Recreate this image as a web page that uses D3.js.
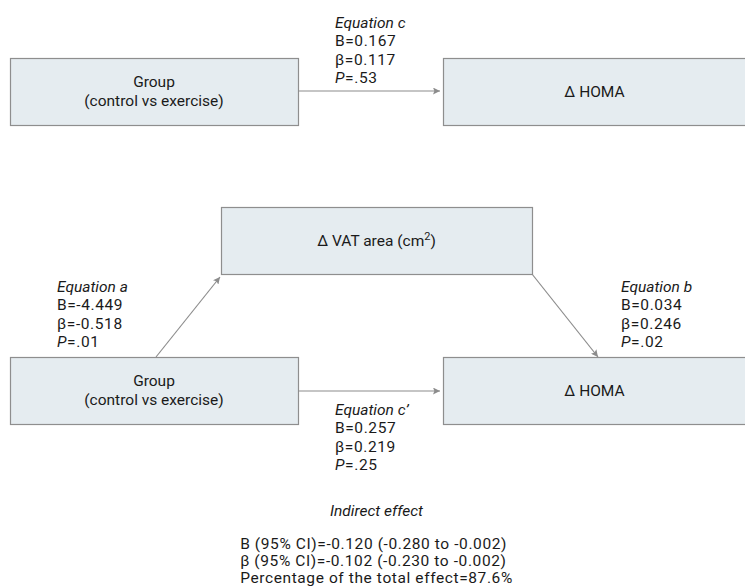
<!DOCTYPE html>
<html>
<head>
<meta charset="utf-8">
<script src="https://cdn.jsdelivr.net/npm/d3@7"></script>
<style>
  body { margin: 0; background: #fff; }
  text { font-family: Roboto, "Noto Sans", sans-serif; font-size: 15.5px; fill: #1a1a1a; }
  .lbl { font-size: 15.5px; }
  .stat { letter-spacing: 0.6px; }
  .box { fill: #e5ecf0; stroke: #8e8e8e; stroke-width: 1.2; }
  .arrow { stroke: #8c8c8c; stroke-width: 1.2; fill: none; }
</style>
</head>
<body>
<div id="chart"></div>
<script>
// model nodes
const groupLabel = ["Group", "(control vs exercise)"];
const homaLabel = ["Δ HOMA"];
const vatLabel = ["Δ VAT area (cm", "2", ")"];

// path coefficients: c (total), a, b, c' (direct)
const equationNames = ["Equation c", "Equation a", "Equation b", "Equation c’"];
const bValues = ["0.167", "-4.449", "0.034", "0.257"];
const betaValues = ["0.117", "-0.518", "0.246", "0.219"];
const pValues = [".53", ".01", ".02", ".25"];

// indirect effect
const indirectTitle = "Indirect effect";
const indirectB = ["-0.120", "-0.280", "-0.002"];
const indirectBeta = ["-0.102", "-0.230", "-0.002"];
const totalEffectPct = "87.6%";

let width = 745, height = 588;
let svg = d3.select("#chart").append("svg")
    .attr("width", width)
    .attr("height", height);

svg.append("defs").append("marker")
    .attr("id", "head")
    .attr("viewBox", "0 0 10 10")
    .attr("refX", 10).attr("refY", 5)
    .attr("markerWidth", 9).attr("markerHeight", 7)
    .attr("markerUnits", "userSpaceOnUse")
    .attr("orient", "auto")
    .append("path")
    .attr("d", "M0,0 L10,5 L0,10 L2,5 Z")
    .attr("fill", "#8c8c8c");

// layout
let leftX = 10, leftW = 288, rightX = 443, rightW = 303, boxH = 67;
let topY = 58, vatY = 207, lowY = 357;
let vatX = 221, vatW = 311;

let boxes = [
    {x: leftX, y: topY, w: leftW, label: groupLabel},
    {x: rightX, y: topY, w: rightW, label: homaLabel},
    {x: vatX, y: vatY, w: vatW, label: null},
    {x: leftX, y: lowY, w: leftW, label: groupLabel},
    {x: rightX, y: lowY, w: rightW, label: homaLabel}
];

svg.selectAll("rect.box")
    .data(boxes)
    .enter().append("rect")
    .attr("class", "box")
    .attr("x", d => d.x + 0.5)
    .attr("y", d => d.y + 0.5)
    .attr("width", d => d.w)
    .attr("height", boxH);

boxes.forEach(function(b){
    let cx = b.x + b.w / 2, cy = b.y + boxH / 2;
    if (b.label == null) {
	let t = svg.append("text").attr("class", "lbl")
	    .attr("x", cx).attr("y", cy + 5)
	    .attr("text-anchor", "middle");
	t.append("tspan").text(vatLabel[0]);
	t.append("tspan").attr("dy", -6).style("font-size", "11px").text(vatLabel[1]);
	t.append("tspan").attr("dy", 6).text(vatLabel[2]);
	return;
    }
    let n = b.label.length;
    b.label.forEach(function(s, i){
	svg.append("text").attr("class", "lbl")
	    .attr("x", cx)
	    .attr("y", cy + 5 + (i - (n - 1) / 2) * 18.5)
	    .attr("text-anchor", "middle")
	    .text(s);
    });
});

// arrows
let arrows = [
    [[leftX + leftW, topY + 33], [rightX - 3, topY + 33]],
    [[156, lowY], [vatX - 1, vatY + boxH + 3]],
    [[vatX + vatW, vatY + boxH], [598, lowY]],
    [[leftX + leftW, lowY + 34], [rightX - 3, lowY + 34]]
];
svg.selectAll("line.arrow")
    .data(arrows)
    .enter().append("line")
    .attr("class", "arrow")
    .attr("x1", d => d[0][0]).attr("y1", d => d[0][1])
    .attr("x2", d => d[1][0]).attr("y2", d => d[1][1])
    .attr("marker-end", "url(#head)");

// equation text blocks: left x and first baseline
let eqPos = [[335, 28], [57, 292], [621, 292], [335, 415]];
let lineH = 18.4;

equationNames.forEach(function(name, i){
    let x = eqPos[i][0], y = eqPos[i][1];
    svg.append("text").attr("x", x).attr("y", y)
	.style("font-style", "italic").text(name);
    svg.append("text").attr("class", "stat").attr("x", x).attr("y", y + lineH)
	.text("B=" + bValues[i]);
    svg.append("text").attr("class", "stat").attr("x", x).attr("y", y + 2 * lineH)
	.text("β=" + betaValues[i]);
    let p = svg.append("text").attr("class", "stat").attr("x", x).attr("y", y + 3 * lineH);
    p.append("tspan").style("font-style", "italic").text("P");
    p.append("tspan").text("=" + pValues[i]);
});

// indirect effect
let midX = vatX + vatW / 2;
svg.append("text")
    .attr("x", midX).attr("y", 516)
    .attr("text-anchor", "middle")
    .style("font-style", "italic")
    .text(indirectTitle);

let indirectLines = [
    "B (95% CI)=" + indirectB[0] + " (" + indirectB[1] + " to " + indirectB[2] + ")",
    "β (95% CI)=" + indirectBeta[0] + " (" + indirectBeta[1] + " to " + indirectBeta[2] + ")",
    "Percentage of the total effect=" + totalEffectPct
];
let block = svg.append("g");
indirectLines.forEach(function(s, i){
    block.append("text").attr("class", "stat")
	.attr("x", 0).attr("y", 549 + i * 17)
	.text(s);
});
let bw = block.node().getBBox().width;
block.attr("transform", "translate(" + (midX - bw / 2) + ",0)");
</script>
</body>
</html>
